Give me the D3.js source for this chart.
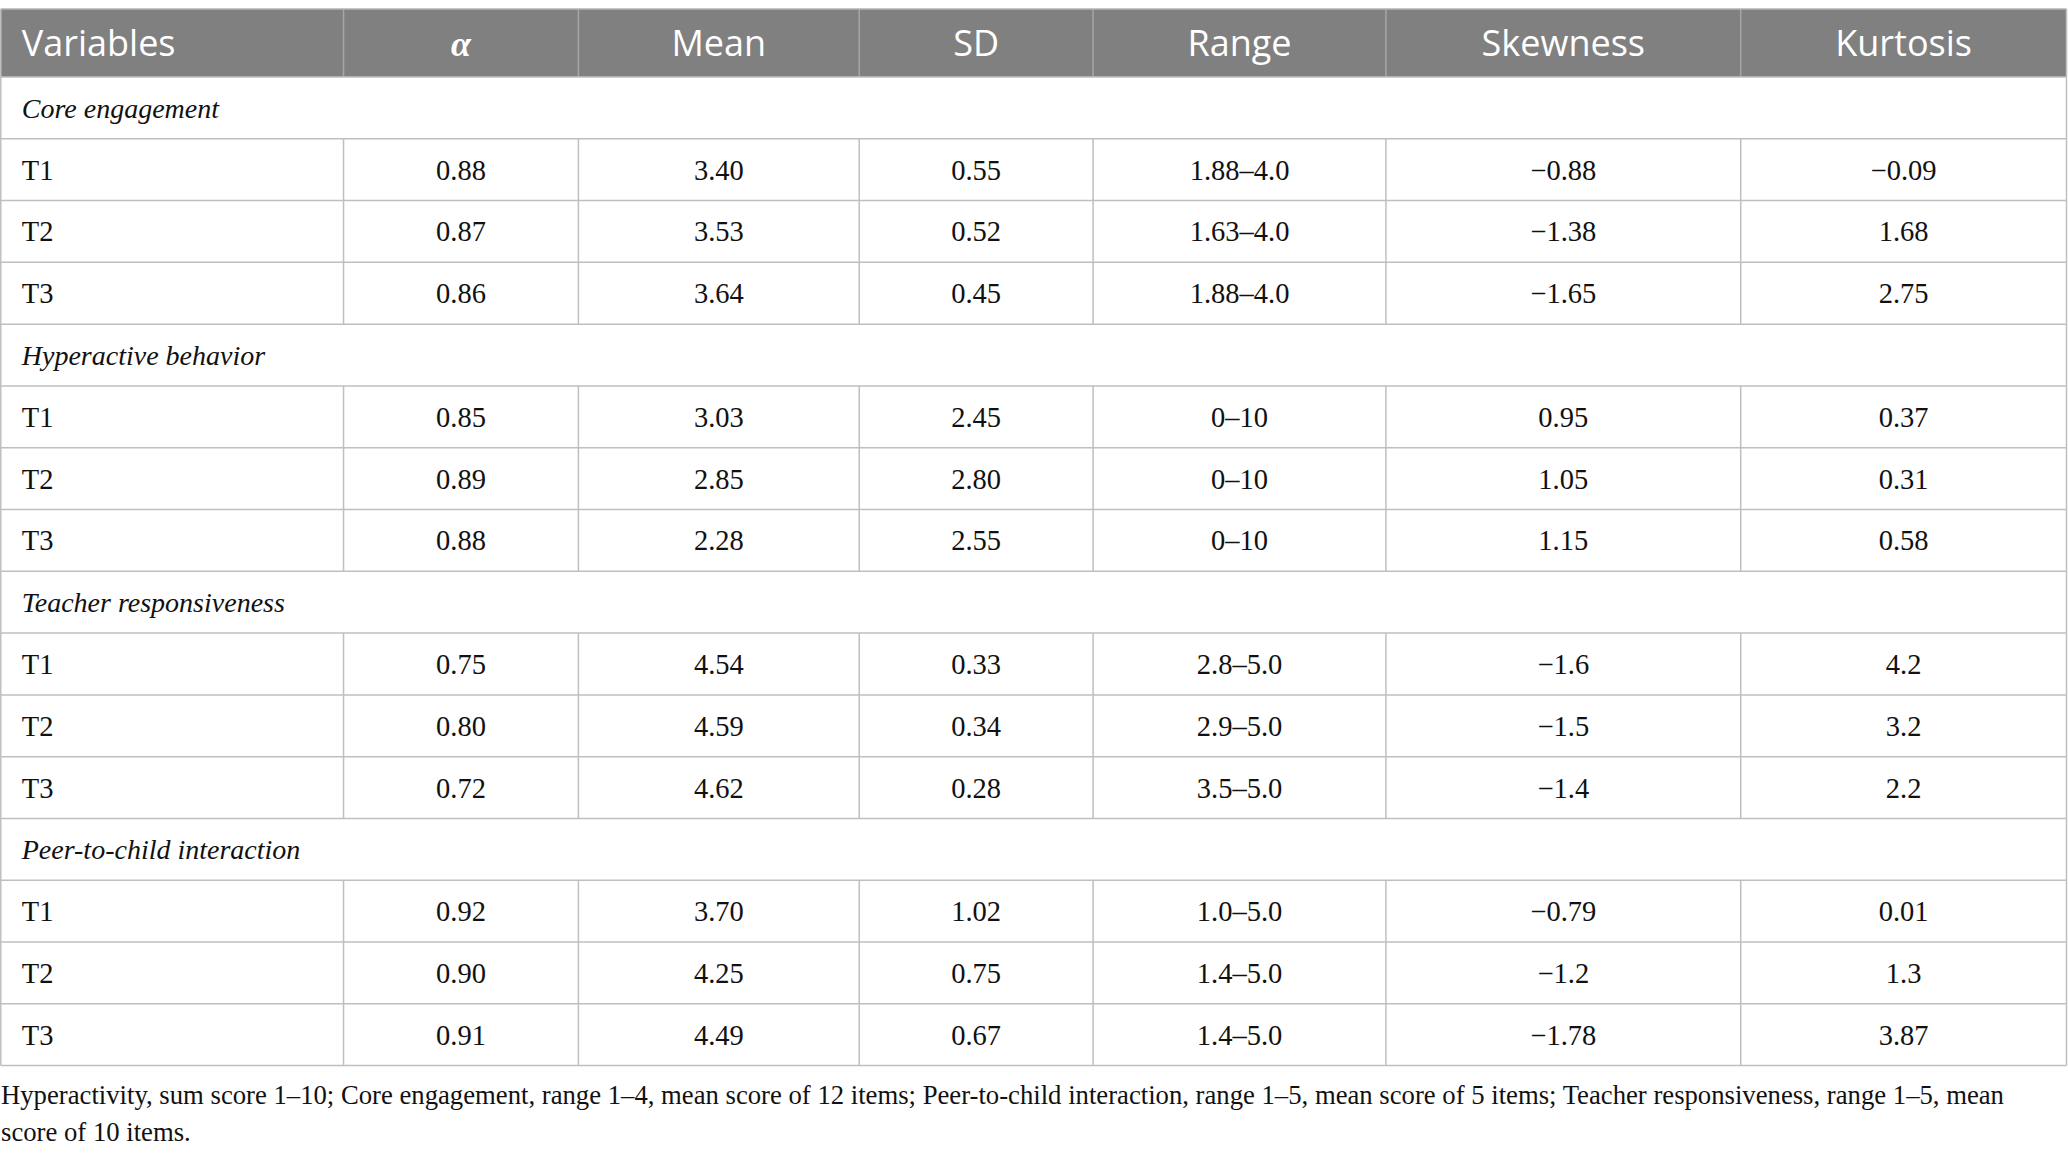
<!DOCTYPE html>
<html>
<head>
<meta charset="utf-8">
<script src="https://cdn.jsdelivr.net/npm/d3@7"></script>
<style>
  html, body { margin: 0; padding: 0; background: #fff; }
  svg { display: block; }
</style>
</head>
<body>
<div id="table"></div>
<script>
// table content
var columns = ["Variables", "α", "Mean", "SD", "Range", "Skewness", "Kurtosis"];
var groups = ["Core engagement", "Hyperactive behavior", "Teacher responsiveness", "Peer-to-child interaction"];
var waves = ["T1", "T2", "T3"];

var alpha = [
  ["0.88", "0.87", "0.86"],
  ["0.85", "0.89", "0.88"],
  ["0.75", "0.80", "0.72"],
  ["0.92", "0.90", "0.91"]
];
var means = [
  ["3.40", "3.53", "3.64"],
  ["3.03", "2.85", "2.28"],
  ["4.54", "4.59", "4.62"],
  ["3.70", "4.25", "4.49"]
];
var sds = [
  ["0.55", "0.52", "0.45"],
  ["2.45", "2.80", "2.55"],
  ["0.33", "0.34", "0.28"],
  ["1.02", "0.75", "0.67"]
];
var ranges = [
  ["1.88–4.0", "1.63–4.0", "1.88–4.0"],
  ["0–10", "0–10", "0–10"],
  ["2.8–5.0", "2.9–5.0", "3.5–5.0"],
  ["1.0–5.0", "1.4–5.0", "1.4–5.0"]
];
var skewness = [
  ["−0.88", "−1.38", "−1.65"],
  ["0.95", "1.05", "1.15"],
  ["−1.6", "−1.5", "−1.4"],
  ["−0.79", "−1.2", "−1.78"]
];
var kurtosis = [
  ["−0.09", "1.68", "2.75"],
  ["0.37", "0.31", "0.58"],
  ["4.2", "3.2", "2.2"],
  ["0.01", "1.3", "3.87"]
];
var footnote = [
  "Hyperactivity, sum score 1–10; Core engagement, range 1–4, mean score of 12 items; Peer-to-child interaction, range 1–5, mean score of 5 items; Teacher responsiveness, range 1–5, mean",
  "score of 10 items."
];

// layout
var width = 2068, height = 1159;
var colShare = [343, 235, 281, 234, 293, 355, 326]; // relative column widths
var tableTop = 9, headerBottom = 77, tableBottom = 1065.6;
var lineColor = "#bfbfbf";

var svg = d3.select("#table")
  .append("svg")
  .attr("width", width)
  .attr("height", height);

// columns: cumulative edges through a linear scale
var edges = [0].concat(Array.from(d3.cumsum(colShare)));
var x = d3.scaleLinear()
  .domain([0, d3.sum(colShare)])
  .range([0.75, width - 1.5]);
function colLeft(i) { return x(edges[i]); }
function colMid(i) { return (x(edges[i]) + x(edges[i + 1])) / 2; }

// body rows: group label row then the three waves
var rows = [];
groups.forEach(function(g, gi) {
  rows.push({type: "group", label: g});
  waves.forEach(function(w, wi) {
    rows.push({type: "data", cells: [w, alpha[gi][wi], means[gi][wi], sds[gi][wi],
      ranges[gi][wi], skewness[gi][wi], kurtosis[gi][wi]]});
  });
});

var y = d3.scaleBand()
  .domain(d3.range(rows.length))
  .range([headerBottom, tableBottom])
  .padding(0);

// header
svg.append("rect")
  .attr("x", x(0)).attr("y", tableTop)
  .attr("width", x(d3.sum(colShare)) - x(0))
  .attr("height", headerBottom - tableTop)
  .attr("fill", "#7f807f");

svg.append("g")
  .selectAll("line")
  .data(d3.range(1, columns.length))
  .enter().append("line")
    .attr("x1", function(i) { return colLeft(i); })
    .attr("x2", function(i) { return colLeft(i); })
    .attr("y1", tableTop).attr("y2", headerBottom)
    .attr("stroke", "#a6a6a6")
    .attr("stroke-width", 1.5);

svg.append("g")
  .selectAll("text")
  .data(columns)
  .enter().append("text")
    .attr("x", function(d, i) { return i == 0 ? colLeft(0) + 21 : colMid(i); })
    .attr("y", (tableTop + headerBottom) / 2 + 13)
    .attr("text-anchor", function(d, i) { return i == 0 ? "start" : "middle"; })
    .attr("fill", "#fff")
    .style("font-family", function(d, i) { return i == 1 ? "'Liberation Serif', serif" : "'Open Sans', sans-serif"; })
    .style("font-style", function(d, i) { return i == 1 ? "italic" : "normal"; })
    .style("font-weight", function(d, i) { return i == 1 ? "bold" : "normal"; })
    .style("font-size", function(d, i) { return i == 1 ? "36px" : "36px"; })
    .text(function(d) { return d; });

// body
var body = svg.append("g");

// horizontal row lines
body.selectAll("line.h")
  .data(d3.range(rows.length + 1))
  .enter().append("line")
    .attr("class", "h")
    .attr("x1", x(0)).attr("x2", x(d3.sum(colShare)))
    .attr("y1", function(i) { return i < rows.length ? y(i) : tableBottom; })
    .attr("y2", function(i) { return i < rows.length ? y(i) : tableBottom; })
    .attr("stroke", lineColor)
    .attr("stroke-width", 1.5);

// outer vertical borders
body.selectAll("line.outer")
  .data([0, columns.length])
  .enter().append("line")
    .attr("class", "outer")
    .attr("x1", function(i) { return colLeft(i); })
    .attr("x2", function(i) { return colLeft(i); })
    .attr("y1", tableTop).attr("y2", tableBottom)
    .attr("stroke", lineColor)
    .attr("stroke-width", 1.5);

svg.append("line")
  .attr("x1", x(0)).attr("x2", x(d3.sum(colShare)))
  .attr("y1", tableTop).attr("y2", tableTop)
  .attr("stroke", "#b3b3b3").attr("stroke-width", 1.5);

rows.forEach(function(r, ri) {
  var top = y(ri), bh = y.bandwidth(), mid = top + bh / 2;
  if (r.type == "group") {
    body.append("text")
      .attr("x", colLeft(0) + 21)
      .attr("y", mid + 10)
      .style("font-family", "'Liberation Serif', serif")
      .style("font-style", "italic")
      .style("font-size", "28px")
      .attr("fill", "#111")
      .text(r.label);
  } else {
    // inner column lines for data rows only
    body.selectAll(null)
      .data(d3.range(1, columns.length))
      .enter().append("line")
        .attr("x1", function(i) { return colLeft(i); })
        .attr("x2", function(i) { return colLeft(i); })
        .attr("y1", top).attr("y2", top + bh)
        .attr("stroke", lineColor)
        .attr("stroke-width", 1.5);
    body.selectAll(null)
      .data(r.cells)
      .enter().append("text")
        .attr("x", function(d, i) { return i == 0 ? colLeft(0) + 21 : colMid(i); })
        .attr("y", mid + 10)
        .attr("text-anchor", function(d, i) { return i == 0 ? "start" : "middle"; })
        .style("font-family", "'Liberation Serif', serif")
        .style("font-size", "28.5px")
        .attr("fill", "#111")
        .text(function(d) { return d; });
  }
});

// footnote
svg.append("g")
  .selectAll("text")
  .data(footnote)
  .enter().append("text")
    .attr("x", 1)
    .attr("y", function(d, i) { return 1104 + i * 36.5; })
    .style("font-family", "'Liberation Serif', serif")
    .style("font-size", "26.7px")
    .attr("fill", "#111")
    .text(function(d) { return d; });
</script>
</body>
</html>
